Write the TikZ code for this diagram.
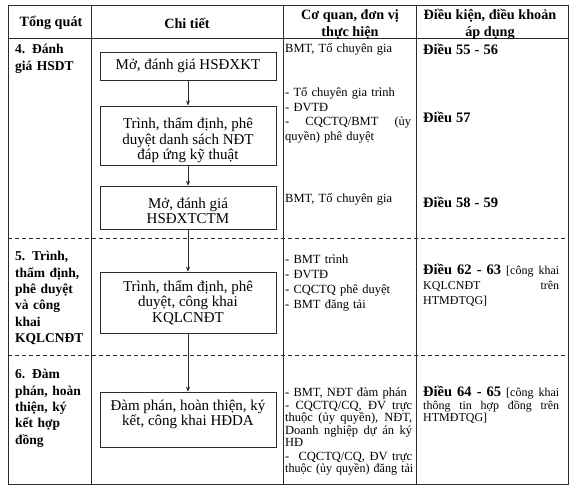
\documentclass[tikz,border=0pt]{standalone}
\usepackage{fontspec}
\usepackage{graphicx}
\setmainfont{Liberation Serif}
\usetikzlibrary{positioning, arrows.meta}
\definecolor{ink}{HTML}{2a2a2a}
\newcommand{\jline}[2]{\makebox[#1][s]{\spaceskip=0.25em plus 1fil minus 0.1em\relax #2}}
\newcommand{\dieu}[1]{\textbf{\fontsize{14.5}{15}\selectfont Điều #1}}
\newcommand{\tall}[1]{\rule{0pt}{#1}}
\newcommand{\deep}[1]{\rule[-#1]{0pt}{1pt}}

\begin{document}
\begin{tikzpicture}[x=1pt, y=-1pt,
  grid/.style={draw=ink, line width=0.8pt},
  sep/.style={draw=ink, line width=0.7pt, dash pattern=on 4pt off 3pt},
  stepbox/.style={draw=ink, line width=0.7pt, minimum width=176pt, align=center, font=\fontsize{15}{15.5}\selectfont, inner sep=2pt},
  head/.style={font=\bfseries\fontsize{14.2}{17}\selectfont, align=center},
  phase/.style={anchor=base west, text width=76pt, inner sep=0pt, align=left, font=\bfseries\fontsize{13.5}{16.3}\selectfont},
  who/.style={anchor=base west, text width=129pt, inner sep=0pt, align=left, font=\fontsize{12.5}{14.5}\selectfont},
  law/.style={anchor=base west, text width=140pt, inner sep=0pt, align=left, font=\fontsize{12}{15}\selectfont},
  arr/.style={-{Stealth[length=5pt, width=4pt]}, line width=0.6pt, ink}
]
  \useasboundingbox (0,0) rectangle (576,502);

  % table frame
  \draw[grid] (8,5) rectangle (568,484);
  \draw[grid] (8,38) -- (568,38);
  \foreach \x in {91,283,416} \draw[grid] (\x,5) -- (\x,484);
  \foreach \y in {238,355} \draw[sep] (8,\y) -- (568,\y);

  % header
  \node[head] (h1) at (51,23) {Tổng quát};
  \node[head] (h2) at (187,23) {Chi tiết};
  \node[head] (h3) at (350,24) {Cơ quan, đơn vị\\thực hiện};
  \node[head] (h4) at (490,24) {Điều kiện, điều khoản\\áp dụng};

  % phases
  \node[phase] (p4) at (15,54) {4. Đánh\\giá HSDT};
  \node[phase] (p5) at (15,261) {5. Trình,\\thẩm định,\\phê duyệt\\và công\\khai\\KQLCNĐT};
  \node[phase] (p6) at (15,379) {6. Đàm\\phán, hoàn\\thiện, ký\\kết hợp\\đồng};

  % steps
  \node[stepbox, minimum height=28pt] (b1) at (188,66) {Mở, đánh giá HSĐXKT};
  \node[stepbox, minimum height=55pt] (b2) at (188,135.5) {\tall{21pt}Trình, thẩm định, phê\\duyệt danh sách NĐT\\đáp ứng kỹ thuật};
  \node[stepbox, minimum height=43pt] (b3) at (188,207.5) {\tall{17pt}Mở, đánh giá\\HSĐXTCTM};
  \node[stepbox, minimum height=61pt] (b4) at (188,302.5) {Trình, thẩm định, phê\\duyệt, công khai\\KQLCNĐT};
  \node[stepbox, minimum height=55pt] (b5) at (188,419.5) {Đàm phán, hoàn thiện, ký\\kết, công khai HĐDA\deep{13pt}};

  \draw[arr] (b1) -- (b2);
  \draw[arr] (b2) -- (b3);
  \draw[arr] (b3) -- (b4);
  \draw[arr] (b4) -- (b5);

  % who does it
  \node[who] (w1) at (285,53) {BMT, Tổ chuyên gia};
  \node[who] (w2) at (285,97) {- Tổ chuyên gia trình\\- ĐVTĐ\\\jline{126pt}{- CQCTQ/BMT (ủy}\\quyền) phê duyệt};
  \node[who] (w3) at (285,203) {BMT, Tổ chuyên gia};
  \node[who, font=\fontsize{12.5}{14.7}\selectfont] (w5) at (285,264) {- BMT trình\\- ĐVTĐ\\- CQCTQ phê duyệt\\- BMT đăng tải};
  \node[who, font=\fontsize{12.5}{12.4}\selectfont] (w6) at (285,397) {- BMT, NĐT đàm phán\\\jline{127pt}{- CQCTQ/CQ, ĐV trực}\\\jline{127pt}{thuộc (ủy quyền), NĐT,}\\\jline{127pt}{Doanh nghiệp dự án ký}\\HĐ\\[1.5pt]\jline{127pt}{- \ CQCTQ/CQ, ĐV trực}\\\resizebox{128pt}{\height}{thuộc (ủy quyền) đăng tải}};

  % legal basis
  \node[law] (l1) at (423,55) {\dieu{55 - 56}};
  \node[law] (l2) at (423,123) {\dieu{57}};
  \node[law] (l3) at (423,208) {\dieu{58 - 59}};
  \node[law] (l5) at (423,275) {\jline{136pt}{\dieu{62 - 63} [công khai}\\\jline{136pt}{KQLCNĐT trên}\\HTMĐTQG]};
  \node[law, font=\fontsize{12}{12.3}\selectfont] (l6) at (423,397) {\jline{136pt}{\dieu{64 - 65} [công khai}\\\jline{136pt}{thông tin hợp đồng trên}\\HTMĐTQG]};
\end{tikzpicture}
\end{document}
